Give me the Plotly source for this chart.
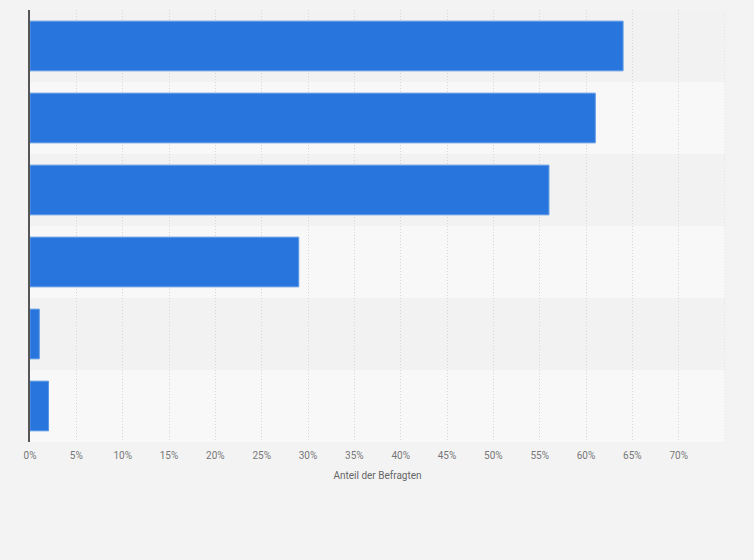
import plotly.graph_objects as go

# Anteil der Befragten in Prozent, von oben nach unten
positions = [0, 1, 2, 3, 4, 5]
values = [64, 61, 56, 29, 1, 2]
tick_vals = [0, 5, 10, 15, 20, 25, 30, 35, 40, 45, 50, 55, 60, 65, 70]
tick_text = ["0%", "5%", "10%", "15%", "20%", "25%", "30%", "35%",
             "40%", "45%", "50%", "55%", "60%", "65%", "70%"]
band_colors = ["#f2f2f2", "#f8f8f8"]

fig = go.Figure(go.Bar(
    x=values,
    y=positions,
    orientation="h",
    width=0.69,
    marker=dict(color="#2876dd", line=dict(color="#5a97e6", width=1)),
    hoverinfo="x",
))

# abwechselnd schattierte Zeilen
for i in positions:
    fig.add_shape(
        type="rect", xref="paper", yref="y",
        x0=0, x1=1, y0=i - 0.5, y1=i + 0.5,
        fillcolor=band_colors[i % 2], line_width=0, layer="below",
    )

fig.update_layout(
    width=754,
    height=560,
    paper_bgcolor="#f3f3f3",
    plot_bgcolor="#f3f3f3",
    margin=dict(l=30, r=29, t=10, b=118),
    showlegend=False,
    bargap=0.31,
    font=dict(family="Roboto, Arial, sans-serif", color="#666666"),
)
fig.update_xaxes(
    range=[0, 75],
    tickvals=tick_vals,
    ticktext=tick_text,
    tickfont=dict(size=10, color="#777777"),
    ticklabelstandoff=6,
    showgrid=True,
    gridcolor="#d6d6d6",
    griddash="1px,2px",
    gridwidth=1,
    zeroline=False,
    showline=False,
    ticks="",
    title=dict(text="Anteil der Befragten", font=dict(size=10, color="#666666"), standoff=11),
    layer="below traces",
)
fig.update_yaxes(
    range=[5.5, -0.5],
    showticklabels=False,
    showgrid=False,
    zeroline=False,
    showline=True,
    linecolor="#555555",
    linewidth=1.5,
    ticks="",
)
# letzte Gitterlinie bei 75 %
fig.add_shape(type="line", xref="x", yref="paper", x0=75, x1=75, y0=0, y1=1,
              line=dict(color="#d6d6d6", width=1, dash="1px,2px"), layer="below")

fig.write_html(
    "out.html",
    config={"displayModeBar": False},
    post_script="document.body.style.margin='0';document.body.style.background='#f3f3f3';",
)
